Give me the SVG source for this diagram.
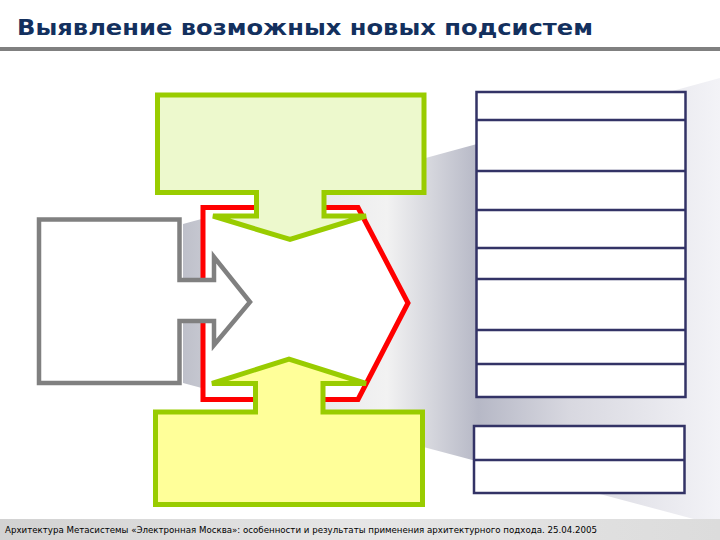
<svg xmlns="http://www.w3.org/2000/svg" width="720" height="540" viewBox="0 0 720 540">
<style>
.title{font-family:"DejaVu Sans","Liberation Sans",sans-serif;font-weight:bold;font-size:21px;fill:#13305e}
.foot{font-family:"DejaVu Sans","Liberation Sans",sans-serif;font-size:9px;fill:#000}
.green{stroke:#99cc00;stroke-width:5;stroke-linejoin:miter}
.tbl{fill:#fff;stroke:#333366;stroke-width:2.5}
.row{stroke:#333366;stroke-width:2.5}
</style>
<defs>
<linearGradient id="beam" gradientUnits="userSpaceOnUse" x1="183" y1="0" x2="720" y2="0">
<stop offset="0" stop-color="#bec0ca"/>
<stop offset="0.2" stop-color="#e6e6ea"/>
<stop offset="0.38" stop-color="#f2f2f2"/>
<stop offset="0.55" stop-color="#b6b8c6"/>
<stop offset="0.72" stop-color="#d8d8e0"/>
<stop offset="1" stop-color="#f3f3f7"/>
</linearGradient>
<linearGradient id="footg" x1="0" y1="0" x2="1" y2="0">
<stop offset="0" stop-color="#d2d2d2"/>
<stop offset="0.5" stop-color="#e6e6e6"/>
<stop offset="1" stop-color="#dcdcdc"/>
</linearGradient>
</defs>
<rect width="720" height="540" fill="#fff"/>
<polygon points="183,224 720,78 720,526 183,383" fill="url(#beam)"/>
<rect x="0" y="519" width="720" height="21" fill="url(#footg)"/>
<text class="title" x="17" y="35" textLength="576" lengthAdjust="spacingAndGlyphs">Выявление возможных новых подсистем</text>
<rect x="0" y="47" width="720" height="4" fill="#808080"/>
<g id="hexagon">
<path d="M203,207.5 H358 L408,303 L358,399.5 H203 Z" fill="#fff" stroke="#ff0000" stroke-width="5"/>
</g>
<g id="source">
<path d="M39,219.5 H179.5 V280 H214 V257 L250,302 L214,345 V321 H179.5 V383 H39 Z" fill="#fff" stroke="#808080" stroke-width="4.5"/>
</g>
<g id="top-arrow">
<path class="green" d="M157.5,95 H424 V192.5 H324 V216 H366 L290,239.5 L213,216 H256.5 V192.5 H157.5 Z" fill="#edf9cd"/>
</g>
<g id="bottom-arrow">
<path class="green" d="M155.5,504.5 H422.5 V412 H323 V383.5 H366 L289,359 L212,383.5 H255.5 V412 H155.5 Z" fill="#ffff99"/>
</g>
<g id="table-main">
<rect class="tbl" x="476.5" y="92" width="209" height="305"/>
<line class="row" x1="476.5" y1="120" x2="685.5" y2="120"/>
<line class="row" x1="476.5" y1="171" x2="685.5" y2="171"/>
<line class="row" x1="476.5" y1="210" x2="685.5" y2="210"/>
<line class="row" x1="476.5" y1="248" x2="685.5" y2="248"/>
<line class="row" x1="476.5" y1="279" x2="685.5" y2="279"/>
<line class="row" x1="476.5" y1="330" x2="685.5" y2="330"/>
<line class="row" x1="476.5" y1="364" x2="685.5" y2="364"/>
</g>
<g id="table-small">
<rect class="tbl" x="474" y="426" width="210.5" height="67"/>
<line class="row" x1="474" y1="460" x2="684.5" y2="460"/>
</g>
<g id="connectors"></g>
<text class="foot" x="5" y="533" textLength="592" lengthAdjust="spacingAndGlyphs">Архитектура Метасистемы «Электронная Москва»: особенности и результаты применения архитектурного подхода. 25.04.2005</text>
</svg>
